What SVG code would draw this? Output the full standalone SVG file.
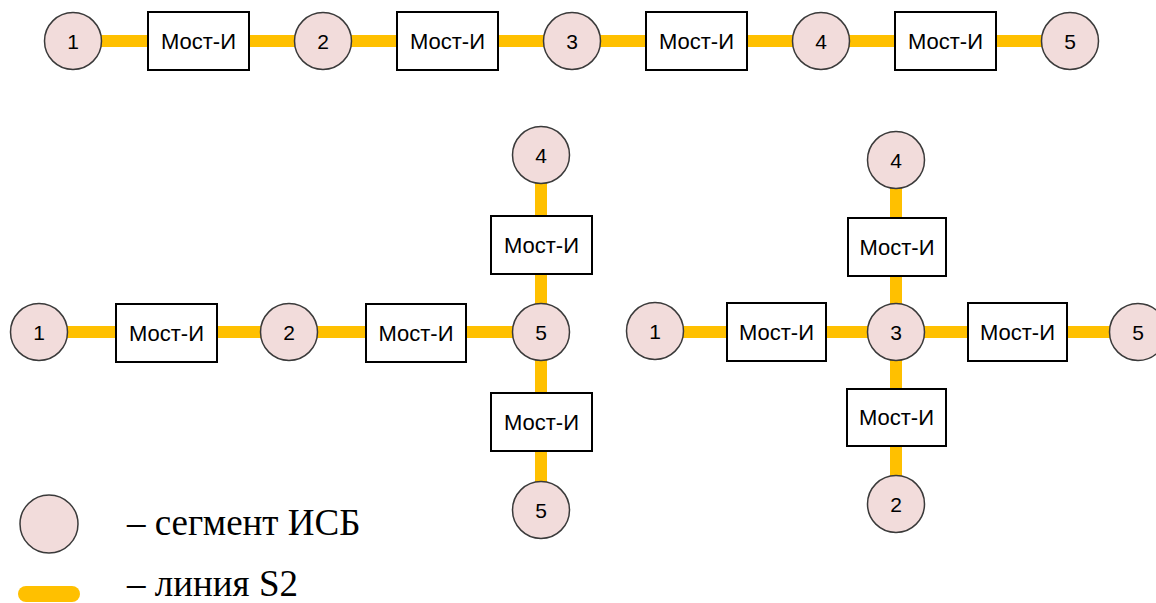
<svg xmlns="http://www.w3.org/2000/svg" width="1156" height="603" viewBox="0 0 1156 603">
  <style>
    .seg { fill: #F2DCDB; stroke: #3A3A3A; stroke-width: 1.5; }
    .br { fill: #FFFFFF; stroke: #000000; stroke-width: 2; }
    .lbl { font-family: "Liberation Sans", Arial, sans-serif; font-size: 22px; fill: #000000; text-anchor: middle; dominant-baseline: central; }
    .num { font-family: "Liberation Sans", Arial, sans-serif; font-size: 21px; fill: #000000; text-anchor: middle; dominant-baseline: central; }
    .s2 { stroke: #FFC000; stroke-width: 12; fill: none; }
    .leg { font-family: "Liberation Serif", "Times New Roman", serif; font-size: 37px; fill: #000000; }
  </style>

  <!-- S2 lines -->
  <g id="connectors">
    <!-- top chain -->
    <line class="s2" x1="73" y1="41" x2="1070" y2="41"/>
    <!-- left cross -->
    <line class="s2" x1="39" y1="332" x2="541" y2="332"/>
    <line class="s2" x1="541" y1="155" x2="541" y2="510"/>
    <!-- right cross -->
    <line class="s2" x1="655" y1="332" x2="1138" y2="332"/>
    <line class="s2" x1="896" y1="160" x2="896" y2="504"/>
  </g>

  <!-- top chain nodes -->
  <g id="t-seg1"><circle class="seg" cx="73" cy="41" r="28.5"/><text class="num" x="73" y="41">1</text></g>
  <g id="t-br1"><rect class="br" x="148" y="12" width="101" height="58"/><text class="lbl" x="198.5" y="41">Мост-И</text></g>
  <g id="t-seg2"><circle class="seg" cx="323" cy="41" r="28.5"/><text class="num" x="323" y="41">2</text></g>
  <g id="t-br2"><rect class="br" x="397" y="12" width="101" height="58"/><text class="lbl" x="447.5" y="41">Мост-И</text></g>
  <g id="t-seg3"><circle class="seg" cx="572" cy="41" r="28.5"/><text class="num" x="572" y="41">3</text></g>
  <g id="t-br3"><rect class="br" x="646" y="12" width="101" height="58"/><text class="lbl" x="696.5" y="41">Мост-И</text></g>
  <g id="t-seg4"><circle class="seg" cx="821" cy="41" r="28.5"/><text class="num" x="821" y="41">4</text></g>
  <g id="t-br4"><rect class="br" x="895" y="12" width="101" height="58"/><text class="lbl" x="945.5" y="41">Мост-И</text></g>
  <g id="t-seg5"><circle class="seg" cx="1070" cy="41" r="28.5"/><text class="num" x="1070" y="41">5</text></g>

  <!-- left cross nodes -->
  <g id="l-seg1"><circle class="seg" cx="39" cy="332" r="28.5"/><text class="num" x="39" y="332">1</text></g>
  <g id="l-br1"><rect class="br" x="116" y="304" width="101" height="58"/><text class="lbl" x="166.5" y="333">Мост-И</text></g>
  <g id="l-seg2"><circle class="seg" cx="289" cy="332" r="28.5"/><text class="num" x="289" y="332">2</text></g>
  <g id="l-br2"><rect class="br" x="366" y="304" width="100" height="58"/><text class="lbl" x="416" y="333">Мост-И</text></g>
  <g id="l-seg5c"><circle class="seg" cx="541" cy="332" r="28.5"/><text class="num" x="541" y="332">5</text></g>
  <g id="l-br3"><rect class="br" x="491" y="216" width="101" height="58"/><text class="lbl" x="541.5" y="245">Мост-И</text></g>
  <g id="l-seg4"><circle class="seg" cx="541" cy="155" r="28.5"/><text class="num" x="541" y="155">4</text></g>
  <g id="l-br4"><rect class="br" x="491" y="393" width="101" height="58"/><text class="lbl" x="541.5" y="422">Мост-И</text></g>
  <g id="l-seg5b"><circle class="seg" cx="541" cy="510" r="28.5"/><text class="num" x="541" y="510">5</text></g>

  <!-- right cross nodes -->
  <g id="r-seg1"><circle class="seg" cx="655" cy="331" r="28.5"/><text class="num" x="655" y="331">1</text></g>
  <g id="r-br1"><rect class="br" x="727" y="303" width="99" height="58"/><text class="lbl" x="776.5" y="332">Мост-И</text></g>
  <g id="r-seg3"><circle class="seg" cx="896" cy="332" r="28.5"/><text class="num" x="896" y="332">3</text></g>
  <g id="r-br2"><rect class="br" x="968" y="303" width="99" height="58"/><text class="lbl" x="1017.5" y="332">Мост-И</text></g>
  <g id="r-seg5"><circle class="seg" cx="1138" cy="332" r="28.5"/><text class="num" x="1138" y="332">5</text></g>
  <g id="r-br3"><rect class="br" x="848" y="218" width="98" height="58"/><text class="lbl" x="897" y="247">Мост-И</text></g>
  <g id="r-seg4"><circle class="seg" cx="896" cy="160" r="28.5"/><text class="num" x="896" y="160">4</text></g>
  <g id="r-br4"><rect class="br" x="847" y="389" width="99" height="57"/><text class="lbl" x="896.5" y="417.5">Мост-И</text></g>
  <g id="r-seg2"><circle class="seg" cx="896" cy="504" r="28.5"/><text class="num" x="896" y="504">2</text></g>

  <!-- legend -->
  <g id="legend">
    <circle class="seg" cx="49" cy="524" r="29"/>
    <text class="leg" x="127" y="535">– сегмент ИСБ</text>
    <rect x="18" y="586" width="62" height="16" rx="8" fill="#FFC000"/>
    <text class="leg" x="127" y="596">– линия S2</text>
  </g>
</svg>
